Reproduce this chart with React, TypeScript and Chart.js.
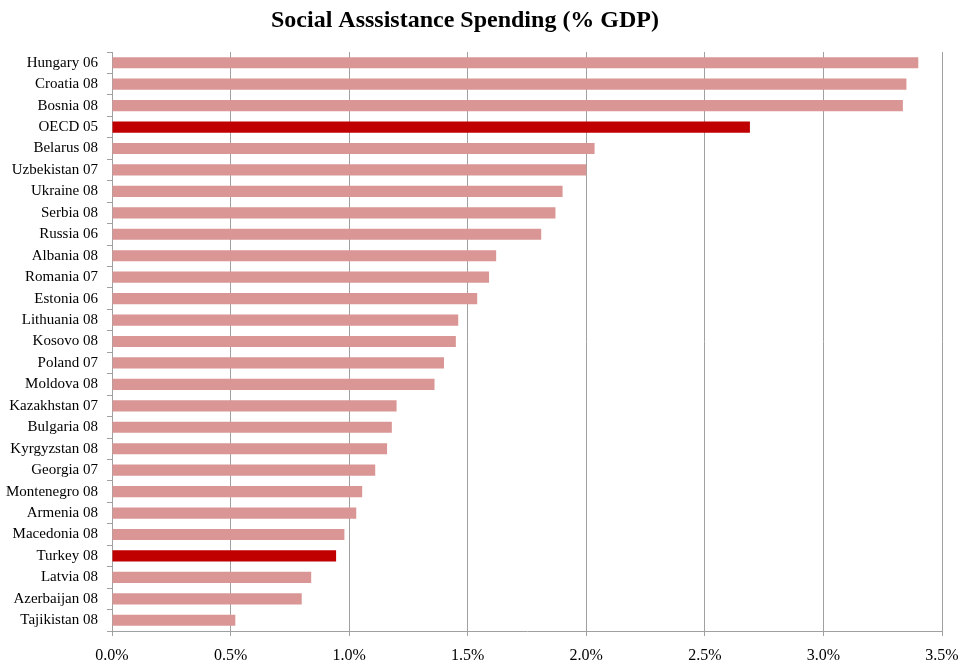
import React, { useEffect, useRef } from "react";
import { Chart, registerables } from "chart.js";

Chart.register(...registerables);

const TITLE = "Social Asssistance Spending (% GDP)";

const countries = [
  "Hungary 06", "Croatia 08", "Bosnia 08", "OECD 05", "Belarus 08", "Uzbekistan 07",
  "Ukraine 08", "Serbia 08", "Russia 06", "Albania 08", "Romania 07", "Estonia 06",
  "Lithuania 08", "Kosovo 08", "Poland 07", "Moldova 08", "Kazakhstan 07", "Bulgaria 08",
  "Kyrgyzstan 08", "Georgia 07", "Montenegro 08", "Armenia 08", "Macedonia 08",
  "Turkey 08", "Latvia 08", "Azerbaijan 08", "Tajikistan 08",
];

const spending = [
  3.40, 3.35, 3.335, 2.69, 2.035, 2.0,
  1.90, 1.87, 1.81, 1.62, 1.59, 1.54,
  1.46, 1.45, 1.40, 1.36, 1.20, 1.18,
  1.16, 1.11, 1.055, 1.03, 0.98,
  0.945, 0.84, 0.80, 0.52,
];

const highlighted = ["OECD 05", "Turkey 08"];

const xTicks = [0, 0.5, 1.0, 1.5, 2.0, 2.5, 3.0, 3.5];

const BASE_COLOR = "#D99694";
const HIGHLIGHT_COLOR = "#C00000";
const GRID_COLOR = "#a0a0a0";
const SERIF = "'Liberation Serif', 'Times New Roman', serif";

const titlePlugin = {
  id: "offsetTitle",
  afterDraw(chart: any) {
    const ctx = chart.ctx;
    ctx.save();
    ctx.font = `bold 24px ${SERIF}`;
    ctx.fillStyle = "#000";
    ctx.textAlign = "center";
    ctx.textBaseline = "middle";
    ctx.fillText(TITLE, 465, 21);
    ctx.restore();
  },
};

export default function App() {
  const ref = useRef<HTMLCanvasElement | null>(null);

  useEffect(() => {
    if (!ref.current) return;
    const chart = new Chart(ref.current, {
      type: "bar",
      data: {
        labels: countries,
        datasets: [
          {
            data: spending,
            backgroundColor: countries.map((c) =>
              highlighted.includes(c) ? HIGHLIGHT_COLOR : BASE_COLOR
            ),
            barPercentage: 0.52,
            categoryPercentage: 1,
          },
        ],
      },
      plugins: [titlePlugin],
      options: {
        indexAxis: "y",
        animation: false,
        responsive: false,
        maintainAspectRatio: false,
        layout: { padding: { left: 0, right: 0, top: 0, bottom: 0 } },
        plugins: {
          legend: { display: false },
          tooltip: { enabled: false },
          title: {
            display: true,
            text: TITLE,
            color: "rgba(0,0,0,0)",
            font: { family: SERIF, size: 24, weight: "bold", lineHeight: 1.2 },
            padding: { top: 6, bottom: 17.2 },
          },
        },
        scales: {
          x: {
            type: "linear",
            min: 0,
            max: 3.5,
            afterBuildTicks: (scale: any) => {
              scale.ticks = xTicks.map((v) => ({ value: v }));
            },
            afterFit: (scale: any) => {
              scale.height = 35;
              scale.paddingRight = 18;
            },
            ticks: {
              color: "#000",
              padding: 10,
              maxRotation: 0,
              font: { family: SERIF, size: 16 },
              callback: (v: any) => Number(v).toFixed(1) + "%",
            },
            grid: {
              color: GRID_COLOR,
              lineWidth: 1,
              tickLength: 5,
              drawOnChartArea: true,
            },
            border: { color: GRID_COLOR, width: 1 },
          },
          y: {
            type: "category",
            offset: true,
            afterFit: (scale: any) => {
              scale.width = 112;
            },
            ticks: {
              color: "#000",
              padding: 9,
              autoSkip: false,
              font: { family: SERIF, size: 15 },
            },
            grid: {
              offset: true,
              drawOnChartArea: false,
              color: GRID_COLOR,
              tickLength: 5,
            },
            border: { color: GRID_COLOR, width: 1 },
          },
        },
      },
    });
    return () => chart.destroy();
  }, []);

  return (
    <div style={{ position: "fixed", left: 0, top: 0, width: 960, height: 666, background: "#fff" }}>
      <canvas ref={ref} width={960} height={666} style={{ display: "block", width: 960, height: 666 }} />
    </div>
  );
}
